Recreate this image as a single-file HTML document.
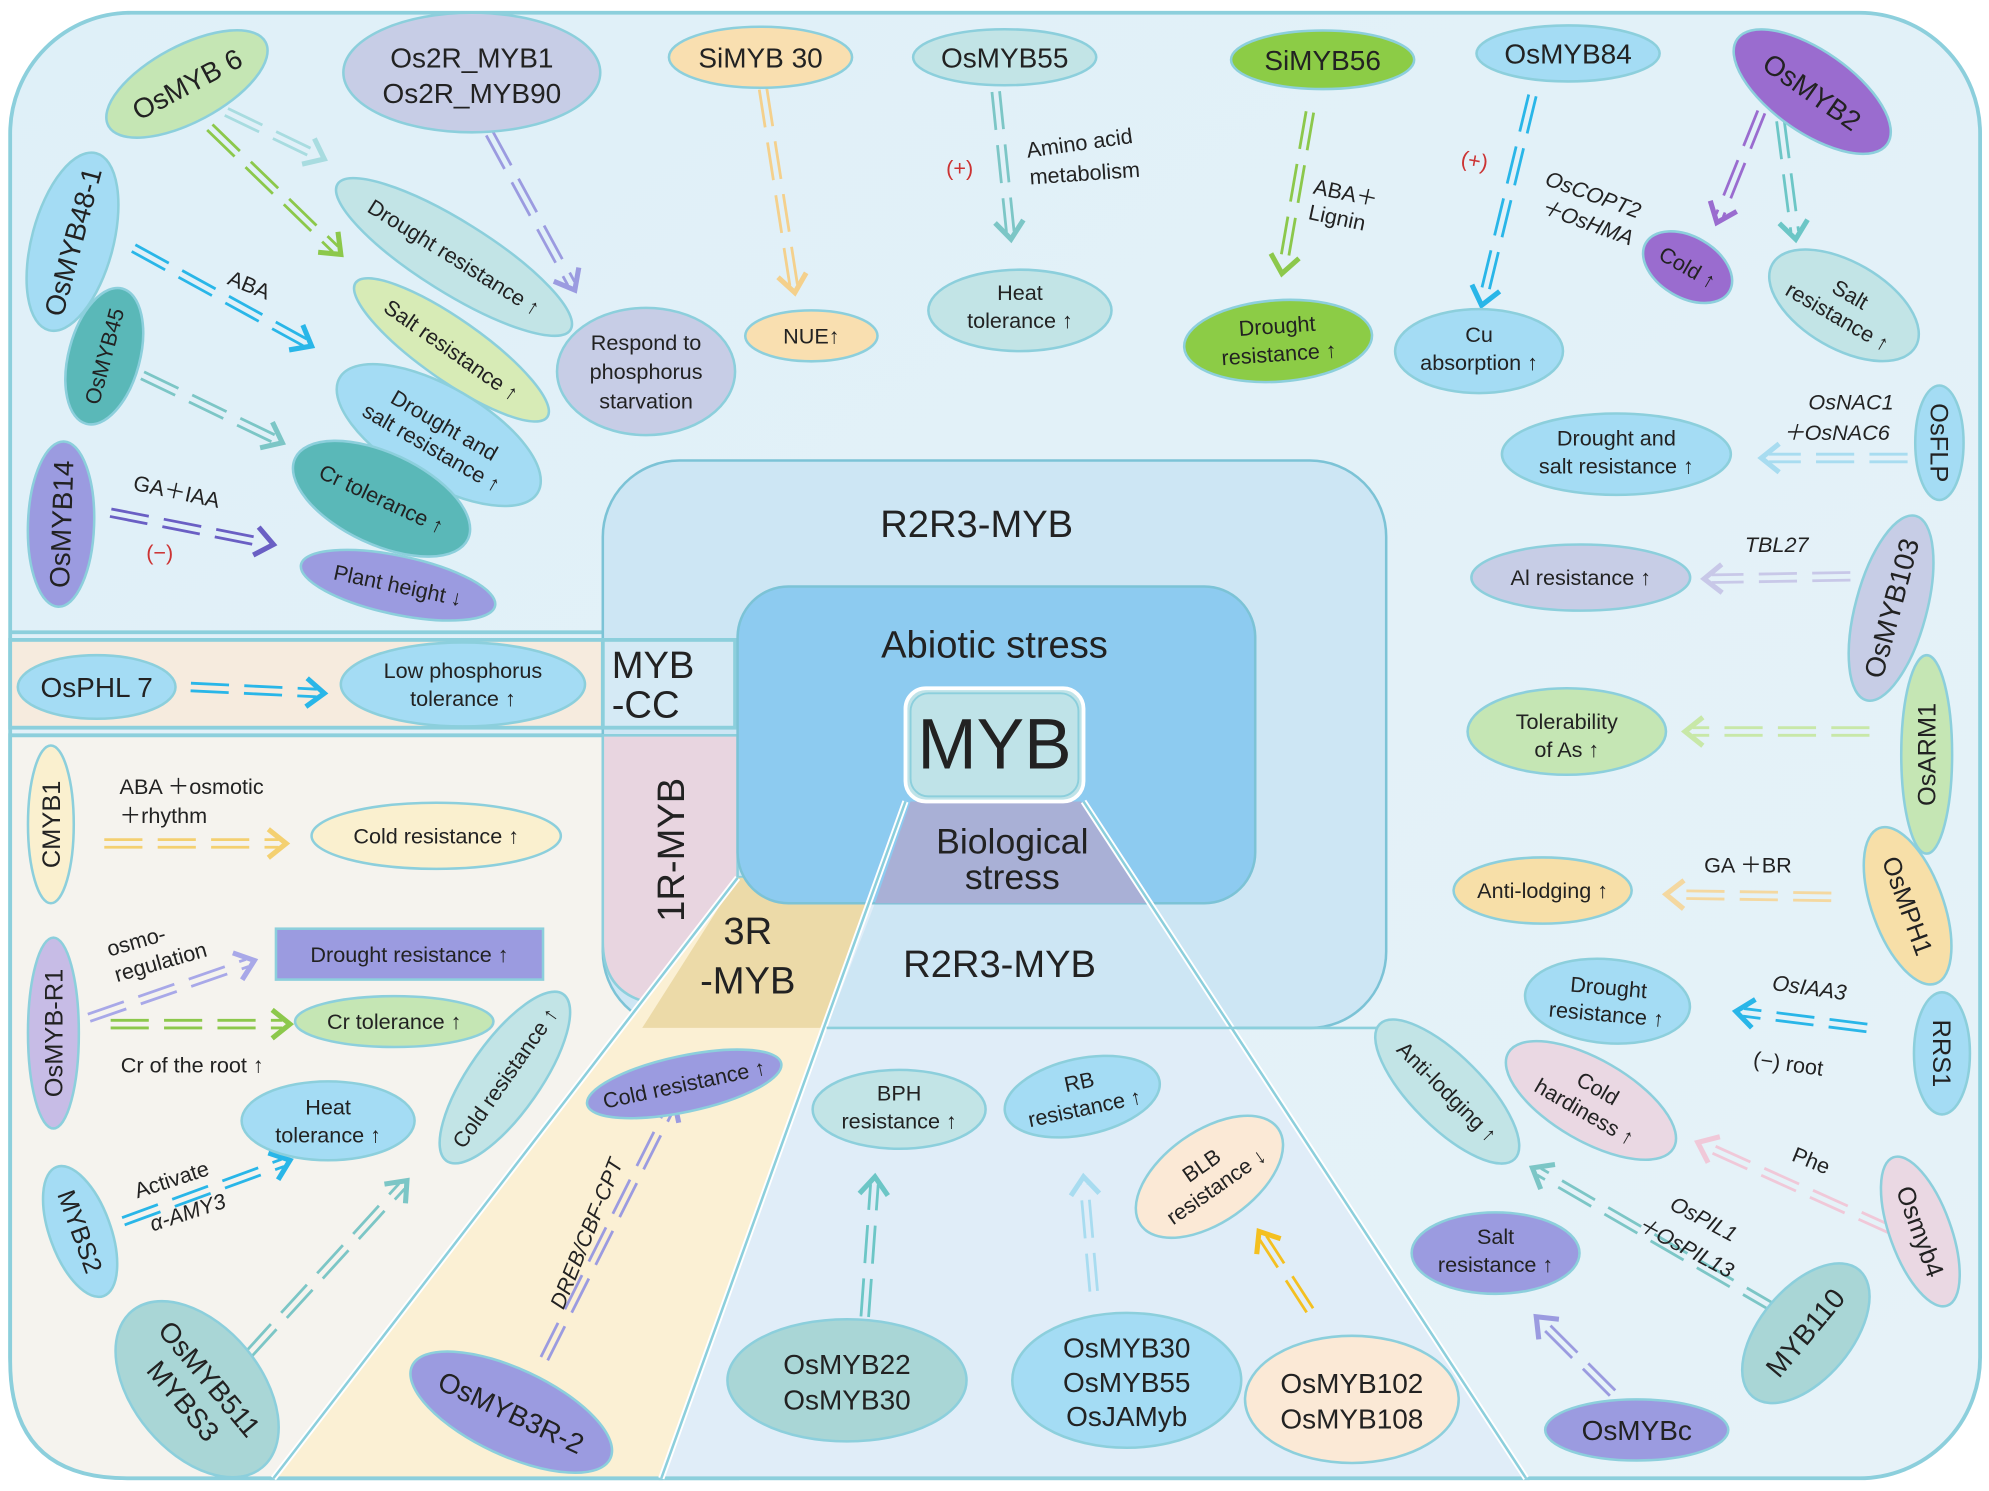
<!DOCTYPE html>
<html><head><meta charset="utf-8"><style>
html,body{margin:0;padding:0;background:#fff}
svg{display:block}
text{font-family:"Liberation Sans",Arial,sans-serif;fill:#222}
</style></head><body>
<svg id="s" width="1989" height="1491" viewBox="0 0 1564 1172" preserveAspectRatio="none" xmlns="http://www.w3.org/2000/svg">
<defs>
<linearGradient id="bg" x1="0" y1="0" x2="1" y2="1"><stop offset="0" stop-color="#dff0f8"/><stop offset="1" stop-color="#e6f2f8"/></linearGradient>
</defs>
<rect x="8" y="10" width="1549" height="1152" rx="95" fill="url(#bg)" stroke="#8ccfdc" stroke-width="3"/>
<!-- left panels -->
<path d="M8 497 H474" stroke="#8ccfdc" stroke-width="3"/>
<rect x="8" y="503" width="570" height="69" fill="#f6ebde" stroke="#8ccfdc" stroke-width="3"/>
<path d="M8 578 H580 V1162 H100 Q8 1162 8 1070 Z" fill="#f5f3ee" stroke="#8ccfdc" stroke-width="3"/>
<!-- R2R3 outer -->
<rect x="474" y="362" width="616" height="446" rx="60" fill="#cde6f4" stroke="#7cc3d6" stroke-width="2"/>
<rect x="474" y="503" width="104" height="69" fill="#d5eaf5" stroke="#8ccfdc" stroke-width="3"/>
<path d="M474 578 H580 V790 H530 Q474 790 474 740 Z" fill="#e8d5e0" stroke="#8ccfdc" stroke-width="2"/>
<!-- lower yellow wedge and lower trapezoid -->
<polygon points="580,690 690,690 650,808 520,1162 215,1162" fill="#fbf0d4" stroke="#8ccfdc" stroke-width="3"/>
<polygon points="505,808 580,690 690,690 650,808" fill="#ecdaa8"/>
<polygon points="712,630 852,630 1200,1162 520,1162" fill="#e0edf8" stroke="#8ccfdc" stroke-width="3"/>
<polygon points="688,710 905,710 968,808 650,808" fill="#cde6f4"/>
<!-- abiotic -->
<rect x="580" y="461" width="407" height="249" rx="40" fill="#8dcbf0" stroke="#7cc3d6" stroke-width="2"/>
<polygon points="716,630 850,630 905,710 688,710" fill="#a9b0d6"/>
<path d="M712 630 L520 1162 M852 630 L1200 1162 M580 690 L215 1162" stroke="#fff" stroke-width="5" fill="none"/>
<path d="M712 630 L520 1162 M852 630 L1200 1162 M580 690 L215 1162" stroke="#8ccfdc" stroke-width="2" fill="none"/>
<path d="M650 808 H1090" stroke="#8ccfdc" stroke-width="2"/>
<rect x="712" y="541" width="140" height="89" rx="16" fill="#bfe3e8" stroke="#fff" stroke-width="3"/>
<rect x="716" y="545" width="132" height="81" rx="14" fill="none" stroke="#8ccfdc" stroke-width="1.5"/>
<text x="782" y="604" font-size="56" text-anchor="middle">MYB</text>
<text x="768" y="422" font-size="30" text-anchor="middle">R2R3-MYB</text>
<text x="782" y="517" font-size="30" text-anchor="middle">Abiotic  stress</text>
<text x="796" y="671" font-size="28" text-anchor="middle">Biological</text>
<text x="796" y="699" font-size="28" text-anchor="middle">stress</text>
<text x="786" y="768" font-size="30" text-anchor="middle">R2R3-MYB</text>
<text x="481" y="533" font-size="30">MYB</text>
<text x="481" y="564" font-size="30">-CC</text>
<text x="588" y="742" font-size="30" text-anchor="middle">3R</text>
<text x="588" y="781" font-size="30" text-anchor="middle">-MYB</text>
<text transform="translate(538,668) rotate(-90)" font-size="30" text-anchor="middle">1R-MYB</text>

<g id="arrows"></g>

<g id="ell" stroke="#8ccfdc" stroke-width="2"></g>

<!-- labels -->
<g font-size="17">
<text transform="translate(178,223) rotate(22)">ABA</text>
<text transform="translate(104,385) rotate(12)">GA＋IAA</text>
<text x="115" y="440" fill="#c33" style="fill:#c33">(−)</text>
<text x="744" y="138" style="fill:#c33">(+)</text>
<text transform="translate(808,124) rotate(-8)">Amino acid</text>
<text transform="translate(810,145) rotate(-4)">metabolism</text>
<text transform="translate(1032,152) rotate(12)">ABA＋</text>
<text transform="translate(1028,172) rotate(12)">Lignin</text>
<text transform="translate(1148,130) rotate(10)" style="fill:#c33">(+)</text>
<text transform="translate(1214,145) rotate(20)" font-style="italic">OsCOPT2</text>
<text transform="translate(1210,167) rotate(20)" font-style="italic">＋OsHMA</text>
<text x="1422" y="322" font-style="italic">OsNAC1</text>
<text x="1402" y="346" font-style="italic">＋OsNAC6</text>
<text x="1372" y="434" font-style="italic">TBL27</text>
<text x="1340" y="686">GA ＋BR</text>
<text transform="translate(1393,778) rotate(8)" font-style="italic">OsIAA3</text>
<text transform="translate(1378,838) rotate(8)">(−) root</text>
<text transform="translate(1408,912) rotate(22)">Phe</text>
<text transform="translate(1312,950) rotate(28)" font-style="italic">OsPIL1</text>
<text transform="translate(1286,966) rotate(28)" font-style="italic">＋OsPIL13</text>
<text x="94" y="624">ABA ＋osmotic</text>
<text x="94" y="647">＋rhythm</text>
<text transform="translate(86,752) rotate(-16)">osmo-</text>
<text transform="translate(92,772) rotate(-16)">regulation</text>
<text x="95" y="843">Cr of the root ↑</text>
<text transform="translate(108,942) rotate(-18)">Activate</text>
<text transform="translate(120,968) rotate(-18)" font-style="italic">α-AMY3</text>
<text transform="translate(443,1030) rotate(-68)" font-style="italic">DREB/CBF-CPT</text>
</g>
</svg>
<script>
const A=[
[178,88,255,125,'#a8dce0'],[165,100,268,200,'#8cc84b'],[385,105,452,228,'#9b9be0'],[600,70,625,230,'#f4d08c'],
[783,72,795,188,'#7cc6c6'],[1030,88,1008,215,'#8cc84b'],[1205,75,1165,240,'#29b6e8'],[1385,88,1350,175,'#9a6ccf'],
[1400,95,1412,188,'#6cc6c6'],[105,195,245,272,'#29b6e8'],[112,295,222,348,'#7cc6c6'],[87,403,215,428,'#6a5fc4'],
[150,540,255,545,'#29b6e8'],[1500,360,1385,360,'#a8dcf0'],[1455,453,1340,455,'#c8c8e8'],[1470,575,1325,575,'#c8e8a8'],
[1440,705,1310,703,'#f4d8a0'],[1468,808,1365,795,'#29b6e8'],[1490,968,1335,898,'#f0c8d8'],[1398,1030,1205,918,'#7cc6c6'],
[1268,1095,1208,1035,'#9b9be0'],[82,663,225,663,'#f4d070'],[70,800,200,755,'#a8a8e8'],[87,805,228,805,'#8cc84b'],
[97,960,228,912,'#29b6e8'],[195,1065,320,928,'#7cc6c6'],[428,1068,530,865,'#9b9be0'],[680,1035,688,925,'#6cc6c6'],
[860,1015,852,925,'#a8dcf0'],[1030,1030,990,968,'#f4c020']];
let h='';
for(const [x1,y1,x2,y2,c] of A){const dx=x2-x1,dy=y2-y1,L=Math.hypot(dx,dy),ux=dx/L,uy=dy/L,px=-uy,py=ux;
for(const o of[-3,3])h+=`<line x1="${x1+px*o}" y1="${y1+py*o}" x2="${x2-ux*6+px*o}" y2="${y2-uy*6+py*o}" stroke="${c}" stroke-width="2.2" stroke-dasharray="30 12"/>`;
const a=14;h+=`<polyline points="${x2-ux*a+px*a*0.8},${y2-uy*a+py*a*0.8} ${x2},${y2} ${x2-ux*a-px*a*0.8},${y2-uy*a-py*a*0.8}" fill="none" stroke="${c}" stroke-width="4"/>`;}
document.getElementById('arrows').innerHTML=h;
</script>
<svg style="position:absolute;left:0;top:0" width="1989" height="1491" viewBox="0 0 1564 1172" preserveAspectRatio="none" xmlns="http://www.w3.org/2000/svg">
<g stroke="#8ccfdc" stroke-width="2" font-family="Liberation Sans, Arial, sans-serif">
<!-- top row -->
<g transform="translate(147,66) rotate(-28)"><ellipse rx="70" ry="30" fill="#c5e6b4"/><text text-anchor="middle" y="8" font-size="22" stroke="none">OsMYB 6</text></g>
<g transform="translate(371,57)"><ellipse rx="101" ry="47" fill="#c7cde6"/><text text-anchor="middle" y="-4" font-size="22" stroke="none">Os2R_MYB1</text><text text-anchor="middle" y="24" font-size="22" stroke="none">Os2R_MYB90</text></g>
<g transform="translate(598,45)"><ellipse rx="72" ry="24" fill="#f9dfb0"/><text text-anchor="middle" y="8" font-size="22" stroke="none">SiMYB 30</text></g>
<g transform="translate(790,45)"><ellipse rx="72" ry="22" fill="#c2e4e6"/><text text-anchor="middle" y="8" font-size="22" stroke="none">OsMYB55</text></g>
<g transform="translate(1040,47)"><ellipse rx="72" ry="23" fill="#8ccc46"/><text text-anchor="middle" y="8" font-size="22" stroke="none">SiMYB56</text></g>
<g transform="translate(1233,42)"><ellipse rx="72" ry="22" fill="#a4dcf4"/><text text-anchor="middle" y="8" font-size="22" stroke="none">OsMYB84</text></g>
<g transform="translate(1425,72) rotate(35)"><ellipse rx="72" ry="32" fill="#9a6ccf"/><text text-anchor="middle" y="8" font-size="22" stroke="none">OsMYB2</text></g>
<!-- top targets -->
<g transform="translate(357,202) rotate(32)"><ellipse rx="108" ry="28" fill="#c2e4e6"/><text text-anchor="middle" y="6" font-size="17" stroke="none">Drought resistance ↑</text></g>
<g transform="translate(355,275) rotate(35)"><ellipse rx="92" ry="24" fill="#d7ebb6"/><text text-anchor="middle" y="6" font-size="17" stroke="none">Salt resistance ↑</text></g>
<g transform="translate(345,342) rotate(30)"><ellipse rx="90" ry="38" fill="#a4dcf4"/><text text-anchor="middle" y="-3" font-size="17" stroke="none">Drought and</text><text text-anchor="middle" y="17" font-size="17" stroke="none">salt resistance ↑</text></g>
<g transform="translate(300,392) rotate(25)"><ellipse rx="75" ry="36" fill="#5ab8b8"/><text text-anchor="middle" y="6" font-size="17" stroke="none">Cr tolerance ↑</text></g>
<g transform="translate(313,460) rotate(12)"><ellipse rx="78" ry="23" fill="#9b9be0"/><text text-anchor="middle" y="6" font-size="17" stroke="none">Plant height ↓</text></g>
<g transform="translate(508,292)"><ellipse rx="70" ry="50" fill="#c7cde6"/><text text-anchor="middle" y="-17" font-size="17" stroke="none">Respond to</text><text text-anchor="middle" y="6" font-size="17" stroke="none">phosphorus</text><text text-anchor="middle" y="29" font-size="17" stroke="none">starvation</text></g>
<g transform="translate(638,264)"><ellipse rx="52" ry="20" fill="#f9dfb0"/><text text-anchor="middle" y="6" font-size="17" stroke="none">NUE↑</text></g>
<g transform="translate(802,244)"><ellipse rx="72" ry="32" fill="#c2e4e6"/><text text-anchor="middle" y="-8" font-size="17" stroke="none">Heat</text><text text-anchor="middle" y="14" font-size="17" stroke="none">tolerance ↑</text></g>
<g transform="translate(1005,268) rotate(-4)"><ellipse rx="74" ry="32" fill="#8ccc46"/><text text-anchor="middle" y="-6" font-size="17" stroke="none">Drought</text><text text-anchor="middle" y="16" font-size="17" stroke="none">resistance ↑</text></g>
<g transform="translate(1163,276)"><ellipse rx="66" ry="33" fill="#a4dcf4"/><text text-anchor="middle" y="-7" font-size="17" stroke="none">Cu</text><text text-anchor="middle" y="15" font-size="17" stroke="none">absorption ↑</text></g>
<g transform="translate(1327,210) rotate(30)"><ellipse rx="38" ry="24" fill="#9a6ccf"/><text text-anchor="middle" y="6" font-size="17" stroke="none">Cold ↑</text></g>
<g transform="translate(1450,240) rotate(30)"><ellipse rx="65" ry="34" fill="#c2e4e6"/><text text-anchor="middle" y="-4" font-size="17" stroke="none">Salt</text><text text-anchor="middle" y="16" font-size="17" stroke="none">resistance ↑</text></g>
<!-- left column sources -->
<g transform="translate(57,190) rotate(-75)"><ellipse rx="72" ry="32" fill="#a4dcf4"/><text text-anchor="middle" y="8" font-size="22" stroke="none">OsMYB48-1</text></g>
<g transform="translate(82,280) rotate(-75)"><ellipse rx="55" ry="28" fill="#5ab8b8"/><text text-anchor="middle" y="6" font-size="17" stroke="none">OsMYB45</text></g>
<g transform="translate(48,412) rotate(-88)"><ellipse rx="65" ry="26" fill="#9b9be0"/><text text-anchor="middle" y="8" font-size="22" stroke="none">OsMYB14</text></g>
<g transform="translate(76,540)"><ellipse rx="62" ry="25" fill="#a4dcf4"/><text text-anchor="middle" y="8" font-size="22" stroke="none">OsPHL 7</text></g>
<g transform="translate(364,538)"><ellipse rx="96" ry="33" fill="#a4dcf4"/><text text-anchor="middle" y="-5" font-size="17" stroke="none">Low phosphorus</text><text text-anchor="middle" y="17" font-size="17" stroke="none">tolerance  ↑</text></g>
<!-- lower left -->
<g transform="translate(40,648) rotate(-90)"><ellipse rx="62" ry="18" fill="#faf0cf"/><text text-anchor="middle" y="7" font-size="20" stroke="none">CMYB1</text></g>
<g transform="translate(343,657)"><ellipse rx="98" ry="26" fill="#faf0cf"/><text text-anchor="middle" y="6" font-size="17" stroke="none">Cold  resistance ↑</text></g>
<g transform="translate(42,812) rotate(-90)"><ellipse rx="75" ry="20" fill="#c7bce6"/><text text-anchor="middle" y="7" font-size="20" stroke="none">OsMYB-R1</text></g>
<rect x="217" y="730" width="210" height="40" fill="#9b9be0"/>
<text x="322" y="756" text-anchor="middle" font-size="17" stroke="none">Drought resistance  ↑</text>
<g transform="translate(310,803)"><ellipse rx="78" ry="20" fill="#c5e6b4"/><text text-anchor="middle" y="6" font-size="17" stroke="none">Cr tolerance ↑</text></g>
<g transform="translate(258,881)"><ellipse rx="68" ry="31" fill="#a4dcf4"/><text text-anchor="middle" y="-5" font-size="17" stroke="none">Heat</text><text text-anchor="middle" y="17" font-size="17" stroke="none">tolerance ↑</text></g>
<g transform="translate(397,847) rotate(-55)"><ellipse rx="80" ry="28" fill="#c2e4e6"/><text text-anchor="middle" y="6" font-size="17" stroke="none">Cold resistance ↑</text></g>
<g transform="translate(63,968) rotate(70)"><ellipse rx="54" ry="24" fill="#a4dcf4"/><text text-anchor="middle" y="7" font-size="20" stroke="none">MYBS2</text></g>
<g transform="translate(155,1092) rotate(50)"><ellipse rx="80" ry="50" fill="#a9d6d6"/><text text-anchor="middle" y="-5" font-size="22" stroke="none">OsMYB511</text><text text-anchor="middle" y="22" font-size="22" stroke="none">MYBS3</text></g>
<g transform="translate(402,1110) rotate(25)"><ellipse rx="86" ry="34" fill="#9b9be0"/><text text-anchor="middle" y="8" font-size="22" stroke="none">OsMYB3R-2</text></g>
<g transform="translate(538,852) rotate(-12)"><ellipse rx="78" ry="22" fill="#9b9be0"/><text text-anchor="middle" y="6" font-size="17" stroke="none">Cold resistance ↑</text></g>
<!-- bottom center -->
<g transform="translate(707,872)"><ellipse rx="68" ry="31" fill="#c2e4e6"/><text text-anchor="middle" y="-7" font-size="17" stroke="none">BPH</text><text text-anchor="middle" y="15" font-size="17" stroke="none">resistance ↑</text></g>
<g transform="translate(851,862) rotate(-12)"><ellipse rx="62" ry="30" fill="#a4dcf4"/><text text-anchor="middle" y="-6" font-size="17" stroke="none">RB</text><text text-anchor="middle" y="15" font-size="17" stroke="none">resistance ↑</text></g>
<g transform="translate(951,925) rotate(-35)"><ellipse rx="66" ry="36" fill="#fbe9d6"/><text text-anchor="middle" y="-5" font-size="17" stroke="none">BLB</text><text text-anchor="middle" y="15" font-size="17" stroke="none">resistance ↓</text></g>
<g transform="translate(666,1085)"><ellipse rx="94" ry="48" fill="#a9d6d6"/><text text-anchor="middle" y="-5" font-size="22" stroke="none">OsMYB22</text><text text-anchor="middle" y="23" font-size="22" stroke="none">OsMYB30</text></g>
<g transform="translate(886,1085)"><ellipse rx="90" ry="53" fill="#a4dcf4"/><text text-anchor="middle" y="-18" font-size="22" stroke="none">OsMYB30</text><text text-anchor="middle" y="9" font-size="22" stroke="none">OsMYB55</text><text text-anchor="middle" y="36" font-size="22" stroke="none">OsJAMyb</text></g>
<g transform="translate(1063,1100)"><ellipse rx="84" ry="50" fill="#fbe9d6"/><text text-anchor="middle" y="-5" font-size="22" stroke="none">OsMYB102</text><text text-anchor="middle" y="23" font-size="22" stroke="none">OsMYB108</text></g>
<!-- right column -->
<g transform="translate(1525,348) rotate(90)"><ellipse rx="45" ry="19" fill="#a4dcf4"/><text text-anchor="middle" y="7" font-size="20" stroke="none">OsFLP</text></g>
<g transform="translate(1271,357)"><ellipse rx="90" ry="32" fill="#a4dcf4"/><text text-anchor="middle" y="-7" font-size="17" stroke="none">Drought and</text><text text-anchor="middle" y="15" font-size="17" stroke="none">salt resistance ↑</text></g>
<g transform="translate(1487,478) rotate(-75)"><ellipse rx="75" ry="28" fill="#c7cde6"/><text text-anchor="middle" y="8" font-size="22" stroke="none">OsMYB103</text></g>
<g transform="translate(1243,454)"><ellipse rx="86" ry="26" fill="#c7cde6"/><text text-anchor="middle" y="6" font-size="17" stroke="none">Al resistance ↑</text></g>
<g transform="translate(1515,593) rotate(-90)"><ellipse rx="78" ry="20" fill="#c5e6b4"/><text text-anchor="middle" y="7" font-size="20" stroke="none">OsARM1</text></g>
<g transform="translate(1232,575)"><ellipse rx="78" ry="34" fill="#c5e6b4"/><text text-anchor="middle" y="-2" font-size="17" stroke="none">Tolerability</text><text text-anchor="middle" y="20" font-size="17" stroke="none">of As ↑</text></g>
<g transform="translate(1500,712) rotate(70)"><ellipse rx="65" ry="28" fill="#f7dfa8"/><text text-anchor="middle" y="7" font-size="20" stroke="none">OsMPH1</text></g>
<g transform="translate(1213,700)"><ellipse rx="70" ry="26" fill="#f7dfa8"/><text text-anchor="middle" y="6" font-size="17" stroke="none">Anti-lodging ↑</text></g>
<g transform="translate(1527,828) rotate(90)"><ellipse rx="48" ry="22" fill="#a4dcf4"/><text text-anchor="middle" y="7" font-size="20" stroke="none">RRS1</text></g>
<g transform="translate(1264,787) rotate(5)"><ellipse rx="65" ry="33" fill="#a4dcf4"/><text text-anchor="middle" y="-5" font-size="17" stroke="none">Drought</text><text text-anchor="middle" y="16" font-size="17" stroke="none">resistance ↑</text></g>
<g transform="translate(1138,858) rotate(45)"><ellipse rx="75" ry="28" fill="#c2e4e6"/><text text-anchor="middle" y="6" font-size="17" stroke="none">Anti-lodging ↑</text></g>
<g transform="translate(1251,865) rotate(30)"><ellipse rx="75" ry="32" fill="#ead8e3"/><text text-anchor="middle" y="-5" font-size="17" stroke="none">Cold</text><text text-anchor="middle" y="16" font-size="17" stroke="none">hardiness ↑</text></g>
<g transform="translate(1510,968) rotate(70)"><ellipse rx="62" ry="24" fill="#ead8e3"/><text text-anchor="middle" y="7" font-size="20" stroke="none">Osmyb4</text></g>
<g transform="translate(1420,1048) rotate(-50)"><ellipse rx="65" ry="36" fill="#a9d6d6"/><text text-anchor="middle" y="7" font-size="22" stroke="none">MYB110</text></g>
<g transform="translate(1176,985)"><ellipse rx="66" ry="32" fill="#9b9be0"/><text text-anchor="middle" y="-7" font-size="17" stroke="none">Salt</text><text text-anchor="middle" y="15" font-size="17" stroke="none">resistance ↑</text></g>
<g transform="translate(1287,1124)"><ellipse rx="72" ry="24" fill="#9b9be0"/><text text-anchor="middle" y="8" font-size="22" stroke="none">OsMYBc</text></g>
</g>
</svg>
</body></html>
